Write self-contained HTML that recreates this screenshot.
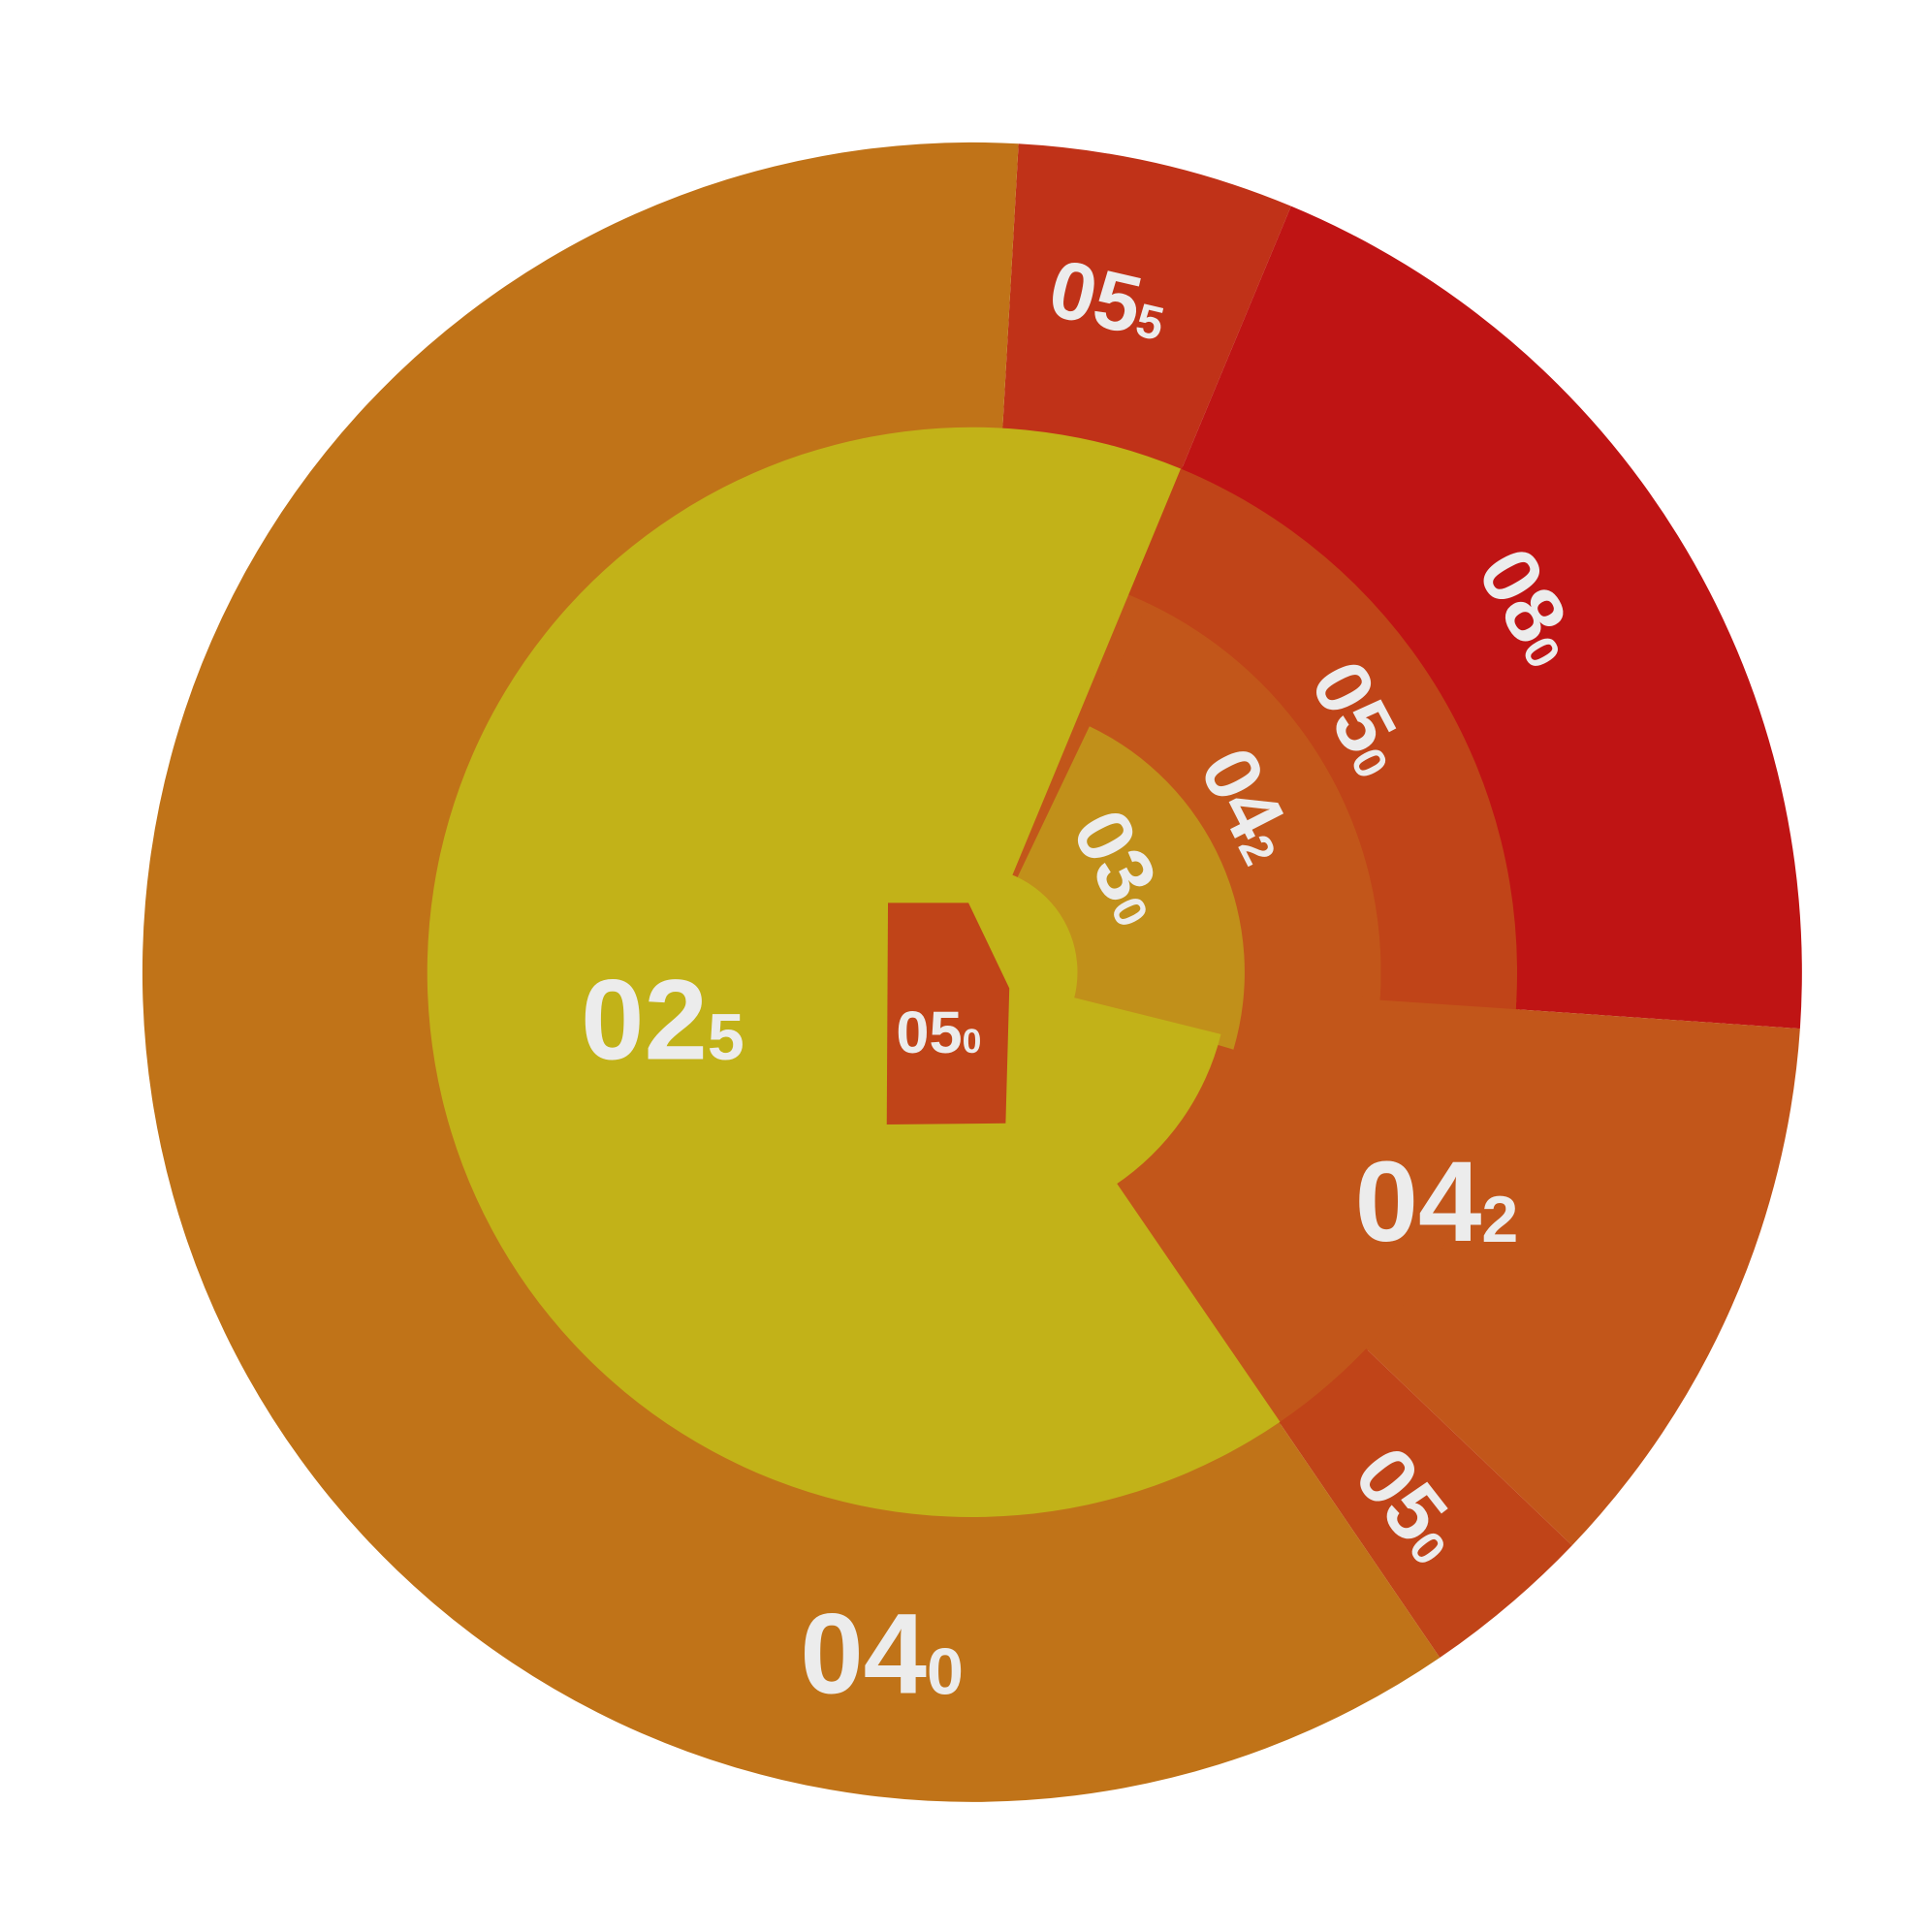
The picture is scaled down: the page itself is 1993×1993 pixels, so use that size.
<!DOCTYPE html>
<html><head><meta charset="utf-8">
<style>
html,body{margin:0;padding:0;background:#fff;}
svg{display:block;}
text{font-family:"Liberation Sans",sans-serif;font-weight:bold;fill:#ececec;}
</style></head>
<body>
<svg id="chart" width="1993" height="1993" viewBox="0 0 1560 1560" xmlns="http://www.w3.org/2000/svg">
<rect x="0" y="0" width="1560" height="1560" fill="#fff"/>
<g id="segs"></g>
<g id="labels"></g>
</svg>
<script>
// Outer ring data (angular share in degrees of a 360 circle)
const outerNames = ['055','080','042','050','040'];
const outerValues = [19.4, 71.3, 39.8, 12.0, 217.5];
// Inner wedge bands
const bandNames = ['050','042','030'];
const bandValues = [71.4, 68, 81];
// Inner big segment
const innerNames = ['025','042'];
const innerValues = [236.9, 51.7];
const centerName = '050';

const CX = 785, CY = 785, R_OUT = 670, R_IN = 440;
const START = -86.8;
const outerColors = ['#c03218','#bf1414','#c2561a','#c04418','#c07318'];
const bandColors = ['#c04418','#c2561a','#c1901a'];
const bandRadii = [[330,440],[220,330],[40,220]];
const outerRot = [13, 60, 0, 52, 0];
const bandRot = [62, 63, 63];
const segG = document.getElementById('segs');
const labG = document.getElementById('labels');
const NS = 'http://www.w3.org/2000/svg';

function pt(r, a){ const t = a*Math.PI/180; return [CX + r*Math.cos(t), CY + r*Math.sin(t)]; }
function arcPath(r0, r1, a0, a1){
  const large = (a1-a0) > 180 ? 1 : 0;
  const p0 = pt(r1,a0), p1 = pt(r1,a1), p2 = pt(r0,a1), p3 = pt(r0,a0);
  let d = `M${p0[0]},${p0[1]} A${r1},${r1} 0 ${large} 1 ${p1[0]},${p1[1]} `;
  if (r0 > 0) d += `L${p2[0]},${p2[1]} A${r0},${r0} 0 ${large} 0 ${p3[0]},${p3[1]} Z`;
  else d += `L${CX},${CY} Z`;
  return d;
}
function label(txt, x, y, size, rot, name){
  const t = document.createElementNS(NS,'text');
  
  
  t.setAttribute('x', x); t.setAttribute('y', y);
  t.setAttribute('text-anchor','middle'); t.setAttribute('dominant-baseline','central');
  t.setAttribute('font-size', size);
  if (rot) t.setAttribute('transform', `rotate(${rot} ${x} ${y})`);
  const a = document.createElementNS(NS,'tspan'); a.textContent = txt.slice(0,2);
  const b = document.createElementNS(NS,'tspan'); b.textContent = txt.slice(2);
  b.setAttribute('font-size', size*0.58); b.setAttribute('dy', size*0.16);
  t.appendChild(a); t.appendChild(b); labG.appendChild(t);
}
function seg(d, fill, name){
  const p = document.createElementNS(NS,'path');
  
  
  p.setAttribute('d', d); p.setAttribute('fill', fill); segG.appendChild(p);
}

// base disc to avoid gaps
const base = document.createElementNS(NS,'circle');


base.setAttribute('cx',CX); base.setAttribute('cy',CY); base.setAttribute('r',R_IN+2);
base.setAttribute('fill','#c2561a'); segG.appendChild(base);

// outer ring
let a = START;
const outerBounds = [];
outerValues.forEach((v,i)=>{
  const a1 = a + v;
  seg(arcPath(R_IN-2, R_OUT, a, a1), outerColors[i], 'outer-segment-'+outerNames[i]);
  outerBounds.push([a,a1]);
  a = a1;
});
const wedgeStart = -67.5;
const i042End = wedgeStart + bandValues[0] + innerValues[1];
// inner 042 lower-right
seg(arcPath(200, R_IN, wedgeStart + bandValues[0] - 1, i042End), outerColors[2], 'inner-segment-'+innerNames[1]);
// bands
bandValues.forEach((v,i)=>{
  const s = wedgeStart + (i===0 ? 0 : 3);
  seg(arcPath(bandRadii[i][0], bandRadii[i][1], s, s + v), bandColors[i], 'band-segment-'+bandNames[i]);
});
// yellow 025
seg(arcPath(0, R_IN, i042End, i042End + innerValues[0]), '#c2b218', 'inner-segment-'+innerNames[0]);
// yellow hub near center and lower wedge
seg(arcPath(0, 85, -70, 60), '#c2b218', 'hub');
seg(arcPath(0, 207, 14, i042End+0.5), '#c2b218', 'hub-lower');
// center piece
const c = document.createElementNS(NS,'path');


c.setAttribute('d','M717,729 L782,729 L815,798 L812,907 L716,908 Z');
c.setAttribute('fill','#c04418'); segG.appendChild(c);

// labels
outerNames.forEach((n,i)=>{
  const mid = (outerBounds[i][0]+outerBounds[i][1])/2;
  const big = outerRot[i]===0;
  const r = big ? 575 : 555;
  let p = pt(r, mid);
  if (i===4) p = [712,1335];
  if (i===2) p = [1160,970];
  if (i===0) p = [895,242];
  if (i===1) p = [1235,490];
  if (i===3) p = [1138,1215];
  label(n, p[0], p[1], big ? 92 : 66, outerRot[i], 'label-outer-'+n);
});
bandNames.forEach((n,i)=>{
  const pos = [[1098,580],[1008,650],[905,700]][i];
  label(n, pos[0], pos[1], 64, bandRot[i], 'label-band-'+n);
});
label(innerNames[0], 535, 823, 92, 0, 'label-inner-'+innerNames[0]);
label(centerName, 758, 833, 48, 0, 'label-center-'+centerName);
</script>
</body></html>
